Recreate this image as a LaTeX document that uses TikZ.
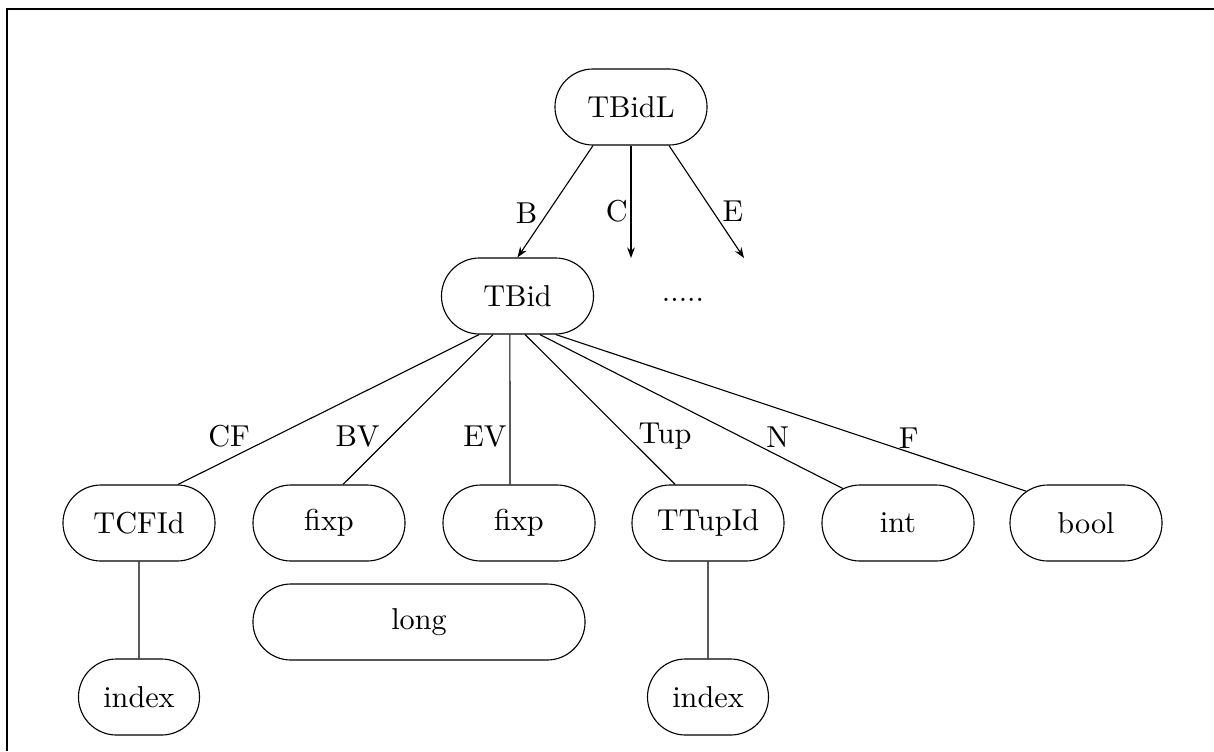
\documentclass[tikz,border=0pt]{standalone}
\usepackage{fontspec}
\setmainfont{lmroman10-regular.otf}
\usetikzlibrary{shapes.misc,arrows.meta,positioning}

\begin{document}
\begin{tikzpicture}[x=0.025cm,y=-0.025cm,font=\fontsize{21.5}{26}\selectfont]

        % 定义样式
        \tikzstyle{box} = [rounded rectangle, minimum width=3.8cm, minimum height=1.9cm, inner sep=0pt, text centered, draw=black, line width=0.8pt]
        \tikzstyle{smallbox} = [box, minimum width=3.025cm]
        \tikzstyle{widebox} = [box, minimum width=8.3cm]
        \tikzstyle{line} = [line width=0.8pt]
        \tikzstyle{arrow} = [line, -{Stealth[length=7.5pt,width=5.5pt]}]
        \tikzstyle{lbl} = [inner sep=2pt]

        % 边框
        \useasboundingbox (0,0) rectangle (1214,751);
        \draw [line width=1.2pt] (7,751) -- (7,9) -- (1214,9);

        % 创建节点
        \node (tbidl) [box] at (631,107) {TBidL};
        \node (tbid) [box] at (517.5,296) {TBid};
        \node (dots) at (683,300) {.....};
        \coordinate (cend) at (631,258);
        \coordinate (eend) at (744,258);

        \node (tcfid) [box] at (139,523) {TCFId};
        \node (fixpa) [box] at (329,523) {fixp};
        \node (fixpb) [box] at (519,523) {fixp};
        \node (ttupid) [box] at (708,523) {TTupId};
        \node (int) [box] at (898,523) {int};
        \node (bool) [box] at (1086,523) {bool};

        \node (idxa) [smallbox] at (139,697) {index};
        \node (long) [widebox] at (419,622) {long};
        \node (idxb) [smallbox] at (708,697) {index};

        % 连接节点
        \draw [arrow] ([xshift=-0.95cm]tbidl.south) -- node[lbl, pos=0.6, anchor=east, xshift=-0.175cm] {B} (tbid.north);
        \draw [arrow] (tbidl.south) -- node[lbl, pos=0.58, anchor=east] {C} (cend);
        \draw [arrow] ([xshift=0.95cm]tbidl.south) -- node[lbl, pos=0.58, anchor=west, xshift=0.17cm] {E} (eend);

        \draw [line] ([xshift=-0.96cm]tbid.south) -- node[lbl, pos=0.83, anchor=south, yshift=0.2cm] {CF} ([xshift=0.975cm]tcfid.north);
        \draw [line] ([xshift=-0.61cm]tbid.south) -- node[lbl, pos=0.68, anchor=east, xshift=-0.2cm] {BV} ([xshift=0.35cm]fixpa.north);
        \draw [line] ([xshift=-0.19cm]tbid.south) -- node[lbl, pos=0.68, anchor=east] {EV} ([xshift=-0.225cm]fixpb.north);
        \draw [line] ([xshift=0.19cm]tbid.south) -- node[lbl, pos=0.68, anchor=west, xshift=0.2cm] {Tup} ([xshift=-0.82cm]ttupid.north);
        \draw [line] ([xshift=0.56cm]tbid.south) -- node[lbl, pos=0.785, anchor=south, yshift=0.125cm] {N} (int.148);
        \draw [line] ([xshift=0.96cm]tbid.south) -- node[lbl, pos=0.75, anchor=south] {F} (bool.152);

        \draw [line] (tcfid) -- (idxa);
        \draw [line] (ttupid) -- (idxb);

    \end{tikzpicture}
\end{document}
